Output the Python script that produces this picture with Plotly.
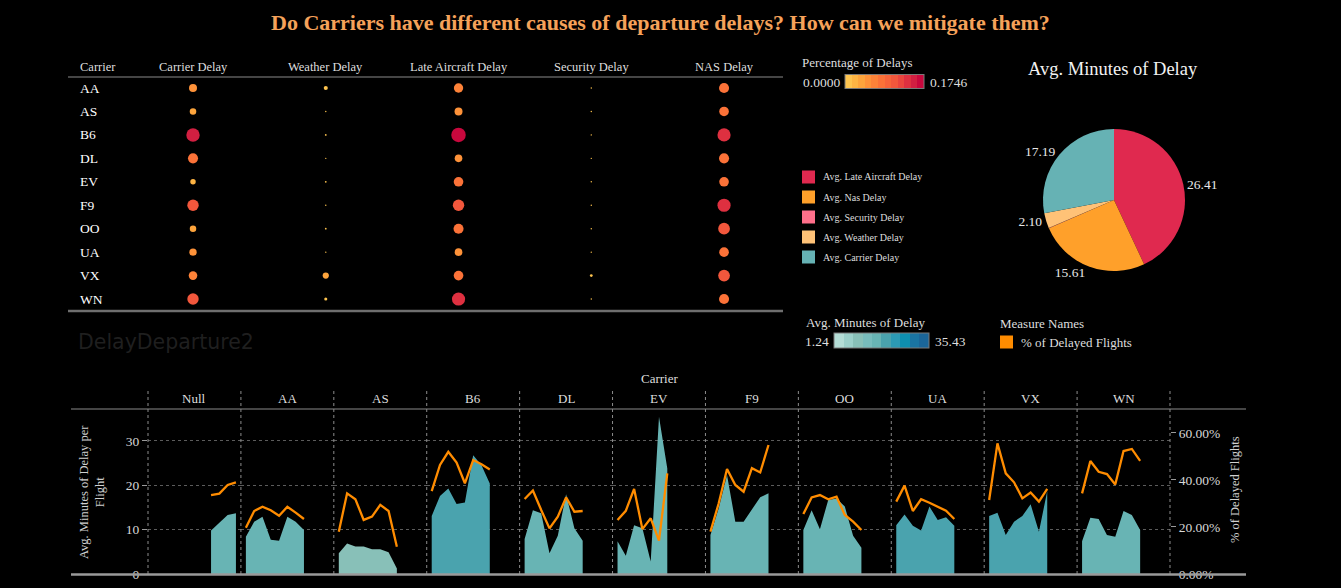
import math
import plotly.graph_objects as go

W, H = 1341, 588
def px(x):
    return x / W
def py(y):
    return 1 - y / H

FONT = "Liberation Serif"
TXT = "#dedede"
TITLE_COLOR = "#f5a25a"

# ---------------- data: top table (percentage of delays) ----------------
table_carriers = ["AA", "AS", "B6", "DL", "EV", "F9", "OO", "UA", "VX", "WN"]
delay_types = ["Carrier Delay", "Weather Delay", "Late Aircraft Delay", "Security Delay", "NAS Delay"]
carrier_delay_pct = [0.053, 0.035, 0.150, 0.084, 0.025, 0.108, 0.035, 0.044, 0.061, 0.108]
weather_delay_pct = [0.014, 0.0015, 0.0026, 0.0015, 0.0026, 0.001, 0.0026, 0.001, 0.032, 0.008]
late_aircraft_delay_pct = [0.072, 0.053, 0.1746, 0.048, 0.077, 0.108, 0.084, 0.048, 0.077, 0.144]
security_delay_pct = [0.001, 0.001, 0.001, 0.001, 0.001, 0.001, 0.001, 0.001, 0.0065, 0.001]
nas_delay_pct = [0.084, 0.077, 0.144, 0.084, 0.077, 0.144, 0.114, 0.077, 0.114, 0.084]
table_series = [carrier_delay_pct, weather_delay_pct, late_aircraft_delay_pct,
                security_delay_pct, nas_delay_pct]

# ---------------- data: pie ----------------
pie_labels = ["Avg. Late Aircraft Delay", "Avg. Nas Delay", "Avg. Security Delay",
              "Avg. Weather Delay", "Avg. Carrier Delay"]
pie_values = [26.41, 15.61, 0.07, 2.10, 17.19]
pie_colors = ["#e0294f", "#ffa02a", "#ff6f8a", "#ffc277", "#66b2b4"]

# ---------------- data: bottom facet chart ----------------
bottom_carriers = ["Null", "AA", "AS", "B6", "DL", "EV", "F9", "OO", "UA", "VX", "WN"]
periods = [
    [7, 8, 9, 10],
    [0, 1, 2, 3, 4, 5, 6, 7],
    [0, 1, 2, 3, 4, 5, 6, 7],
    [0, 1, 2, 3, 4, 5, 6, 7],
    [0, 1, 2, 3, 4, 5, 6, 7],
    [0, 1, 2, 3, 4, 5, 6],
    [0, 1, 2, 3, 4, 5, 6, 7],
    [0, 1, 2, 3, 4, 5, 6, 7],
    [0, 1, 2, 3, 4, 5, 6, 7],
    [0, 1, 2, 3, 4, 5, 6, 7],
    [0, 1, 2, 3, 4, 5, 6, 7],
]
avg_minutes = [
    [9.8, 11.6, 13.3, 13.7],
    [8.4, 11.8, 12.9, 7.7, 7.5, 12.9, 11.8, 9.9],
    [4.7, 6.9, 6.2, 6.2, 5.6, 5.6, 4.9, 1.24],
    [13.1, 17.6, 19.3, 15.8, 16.1, 26.8, 24.5, 20.4],
    [7.9, 14.4, 13.7, 4.7, 8.6, 18.0, 10.3, 7.5],
    [7.4, 4.1, 11.0, 10.3, 2.8, 35.43, 23.8],
    [8.8, 14.8, 22.3, 11.8, 11.8, 14.6, 17.3, 18.2],
    [9.9, 14.4, 10.1, 16.7, 17.0, 15.2, 8.6, 5.9],
    [11.0, 13.4, 10.9, 9.8, 15.2, 12.2, 12.8, 10.9],
    [13.1, 13.8, 8.8, 11.8, 13.1, 15.7, 9.5, 18.7],
    [7.4, 12.7, 12.4, 8.8, 8.4, 14.2, 13.3, 9.9],
]
pct_delayed = [
    [0.336, 0.342, 0.379, 0.390],
    [0.197, 0.268, 0.286, 0.271, 0.248, 0.286, 0.261, 0.234],
    [0.180, 0.343, 0.318, 0.230, 0.244, 0.294, 0.268, 0.116],
    [0.353, 0.464, 0.520, 0.474, 0.386, 0.485, 0.467, 0.445],
    [0.319, 0.355, 0.272, 0.194, 0.244, 0.326, 0.265, 0.268],
    [0.230, 0.269, 0.362, 0.191, 0.237, 0.142, 0.428],
    [0.180, 0.301, 0.447, 0.379, 0.350, 0.450, 0.432, 0.549],
    [0.255, 0.326, 0.336, 0.318, 0.329, 0.251, 0.223, 0.187],
    [0.308, 0.376, 0.268, 0.318, 0.303, 0.286, 0.269, 0.234],
    [0.315, 0.556, 0.428, 0.390, 0.322, 0.347, 0.308, 0.362],
    [0.343, 0.481, 0.435, 0.425, 0.381, 0.523, 0.532, 0.481],
]
carrier_color_minutes = [16.6, 16.6, 9.8, 20.0, 16.6, 16.6, 16.6, 16.6, 20.0, 20.0, 16.6]

# ---------------- palettes ----------------
ORANGE_STEPS = ["#fec44f", "#feb443", "#fda43c", "#fe9239", "#fd8238", "#fb7238",
                "#f7643a", "#f2573c", "#ea453e", "#de3040", "#d21f41", "#c8083d"]
TEAL_STEPS = ["#b4ddd6", "#9cd0ca", "#88c0b8", "#78bcbc", "#68b4b4",
              "#4aa3ae", "#2c9ab4", "#0e8fb0", "#1a74a2", "#1b6699"]

def stepped(colors):
    n = len(colors)
    cs = []
    for i, c in enumerate(colors):
        cs.append([i / n, c])
        cs.append([(i + 1) / n, c])
    return cs

ORANGE_CS = stepped(ORANGE_STEPS)
TEAL_CS = stepped(TEAL_STEPS)

pct_min = 0.0
pct_max = max(max(s) for s in table_series)
min_minutes = min(min(s) for s in avg_minutes)
max_minutes = max(max(s) for s in avg_minutes)

def teal_for(v):
    t = (v - min_minutes) / (max_minutes - min_minutes)
    idx = min(int(t * len(TEAL_STEPS)), len(TEAL_STEPS) - 1)
    return TEAL_STEPS[idx]

fig = go.Figure()
annotations = []
shapes = []

def ann(text, x, y, size=13, color=TXT, xanchor="center", yanchor="middle",
        xref="paper", yref="paper", family=FONT, angle=0):
    annotations.append(dict(text=text, x=x, y=y, xref=xref, yref=yref, showarrow=False,
                            xanchor=xanchor, yanchor=yanchor, textangle=angle,
                            font=dict(family=family, size=size, color=color)))

def hline(x0, x1, y, color, width, dash="solid"):
    shapes.append(dict(type="line", xref="paper", yref="paper", x0=px(x0), x1=px(x1),
                       y0=py(y), y1=py(y), line=dict(color=color, width=width, dash=dash)))

# ---------------- title ----------------
ann("<b>Do Carriers have different causes of departure delays? How can we mitigate them?</b>",
    px(660), py(22), size=22, color=TITLE_COLOR)

# ---------------- top table ----------------
xs, ys, vals = [], [], []
for j, series in enumerate(table_series):
    for i, v in enumerate(series):
        xs.append(j)
        ys.append(i)
        vals.append(v)
MAX_BUBBLE = 14.5
sizes = [max(MAX_BUBBLE * math.sqrt(v / pct_max), 1.4) for v in vals]
fig.add_trace(go.Scatter(
    x=xs, y=ys, xaxis="x12", yaxis="y3", mode="markers", hoverinfo="skip",
    marker=dict(size=sizes, color=vals, colorscale=ORANGE_CS, cmin=pct_min, cmax=pct_max,
                opacity=1, line=dict(width=0), showscale=True,
                colorbar=dict(orientation="h", x=px(884.5), xanchor="center", y=py(82),
                              yanchor="middle", len=79, lenmode="pixels", thickness=14,
                              outlinewidth=1, outlinecolor="#7a7a7a", showticklabels=False,
                              ticks="", xpad=0, ypad=0)),
    showlegend=False))

# teal legend (avg minutes of delay)
fig.add_trace(go.Scatter(
    x=[None, None], y=[None, None], xaxis="x12", yaxis="y3", mode="markers", hoverinfo="skip",
    marker=dict(color=[min_minutes, max_minutes], colorscale=TEAL_CS, cmin=min_minutes,
                cmax=max_minutes, showscale=True,
                colorbar=dict(orientation="h", x=px(881.5), xanchor="center", y=py(340.5),
                              yanchor="middle", len=95, lenmode="pixels", thickness=15,
                              outlinewidth=1, outlinecolor="#7a7a7a", showticklabels=False,
                              ticks="", xpad=0, ypad=0)),
    showlegend=False))

ann("Carrier", px(78), py(67), size=12.5, xanchor="left")
for j, name in enumerate(delay_types):
    ann(name, j, py(67), size=12.5, xref="x12")
for i, c in enumerate(table_carriers):
    ann(c, px(78), i, size=13.5, color="#ffffff", xanchor="left", yref="y3")
hline(68, 783, 77, "#8a8a8a", 1)
hline(68, 783, 311, "#6e6e6e", 2.5)

ann("DelayDeparture2", px(76), py(342), size=20.5, color="#1f1f1f",
    xanchor="left", family="DejaVu Sans")

# legends top-right
ann("Percentage of Delays", px(800), py(63), size=13, xanchor="left")
ann(f"{pct_min:.4f}", px(842), py(82), size=13.5, xanchor="right")
ann(f"{pct_max:.4f}", px(928), py(82), size=13.5, xanchor="left")

for i, (lab, col) in enumerate(zip(pie_labels, pie_colors)):
    yc = 177 + 20 * i
    shapes.append(dict(type="rect", xref="paper", yref="paper", x0=px(802), x1=px(815),
                       y0=py(yc + 6.5), y1=py(yc - 6.5), fillcolor=col, line=dict(width=0)))
    ann(lab, px(821), py(yc), size=10, xanchor="left")

ann("Avg. Minutes of Delay", px(804), py(322), size=13, xanchor="left")
ann(f"{min_minutes:.2f}", px(831), py(341), size=13.5, xanchor="right")
ann(f"{max_minutes:.2f}", px(933), py(341), size=13.5, xanchor="left")

ann("Measure Names", px(998), py(324), size=13, xanchor="left")
shapes.append(dict(type="rect", xref="paper", yref="paper", x0=px(1000), x1=px(1013),
                   y0=py(348.5), y1=py(335.5), fillcolor="#ff8c00", line=dict(width=0)))
ann("% of Delayed Flights", px(1019), py(342), size=13, xanchor="left")

# ---------------- pie ----------------
pie_text = [f"{v:.2f}" if v >= 1 else "" for v in pie_values]
fig.add_trace(go.Pie(
    labels=pie_labels, values=pie_values, text=pie_text, textinfo="text",
    textposition="outside", sort=False, direction="clockwise", rotation=0,
    marker=dict(colors=pie_colors, line=dict(width=0)),
    outsidetextfont=dict(family=FONT, size=13.5, color="#e8e8e8"),
    domain=dict(x=[px(1043), px(1185)], y=[py(271), py(129)]),
    showlegend=False, hoverinfo="skip"))
ann("Avg. Minutes of Delay", px(1113), py(69), size=18.5, color="#f2f2f2")

# ---------------- bottom facet chart ----------------
n = len(bottom_carriers)
left, right = 148, 1170
pw = (right - left) / n
layout_axes = {}
for k, c in enumerate(bottom_carriers):
    xa = "x" if k == 0 else f"x{k + 1}"
    key = "xaxis" if k == 0 else f"xaxis{k + 1}"
    fill = teal_for(carrier_color_minutes[k])
    fig.add_trace(go.Scatter(
        x=periods[k], y=avg_minutes[k], xaxis=xa, yaxis="y", mode="lines",
        line=dict(width=0, color=fill), fill="tozeroy", fillcolor=fill,
        hoverinfo="skip", showlegend=False))
    fig.add_trace(go.Scatter(
        x=periods[k], y=pct_delayed[k], xaxis=xa, yaxis="y2", mode="lines",
        line=dict(width=2.3, color="#ff8c00"), hoverinfo="skip", showlegend=False))
    layout_axes[key] = dict(domain=[px(left + k * pw), px(left + (k + 1) * pw)],
                            range=[-0.6, 10.6], visible=False, anchor="y", automargin=False)
    ann(c, 0.5, py(398), size=13, xref=f"{xa} domain")

for k in range(n + 1):
    xb = left + k * pw
    shapes.append(dict(type="line", xref="paper", yref="paper", x0=px(xb), x1=px(xb),
                       y0=py(574), y1=py(389), line=dict(color="#8c8c8c", width=1, dash="dot")))
hline(71, 1246, 409, "#8a8a8a", 1)
hline(71, 1246, 574.5, "#9a9a9a", 2.5)

ann("Carrier", px(659), py(378), size=13)
ann("Avg. Minutes of Delay per<br>Flight", px(92), py(492), size=12.5, angle=-90, color="#d0d0d0")
ann("% of Delayed Flights", px(1235), py(490), size=12.5, angle=-90, color="#d0d0d0")

layout_axes["xaxis12"] = dict(domain=[px(68), px(783)], range=[-0.9416, 4.444],
                              visible=False, anchor="y3", automargin=False)
layout_axes["yaxis3"] = dict(domain=[py(311), py(77)], range=[9.51, -0.47],
                             visible=False, anchor="x12", automargin=False)

fig.update_layout(
    width=W, height=H, margin=dict(l=0, r=0, t=0, b=0, autoexpand=False),
    paper_bgcolor="#000000", plot_bgcolor="rgba(0,0,0,0)",
    font=dict(family=FONT, color=TXT),
    yaxis=dict(domain=[py(574), py(409)], range=[0, 37.2], dtick=10, anchor="x",
               automargin=False,
               showgrid=True, gridcolor="#5c5c5c", griddash="dot", gridwidth=1,
               zeroline=False, showline=False, ticks="outside", ticklen=5,
               tickcolor="#9a9a9a", tickfont=dict(family=FONT, size=13.5, color="#d8d8d8")),
    yaxis2=dict(overlaying="y", side="right", anchor="x11", range=[0, 0.702], dtick=0.2,
                automargin=False,
                tickformat=".2%", showgrid=False, zeroline=False, showline=False,
                ticks="outside", ticklen=5, tickcolor="#9a9a9a",
                tickfont=dict(family=FONT, size=13.5, color="#d8d8d8")),
    annotations=annotations, shapes=shapes,
    **layout_axes,
)

fig.write_html("out.html")
